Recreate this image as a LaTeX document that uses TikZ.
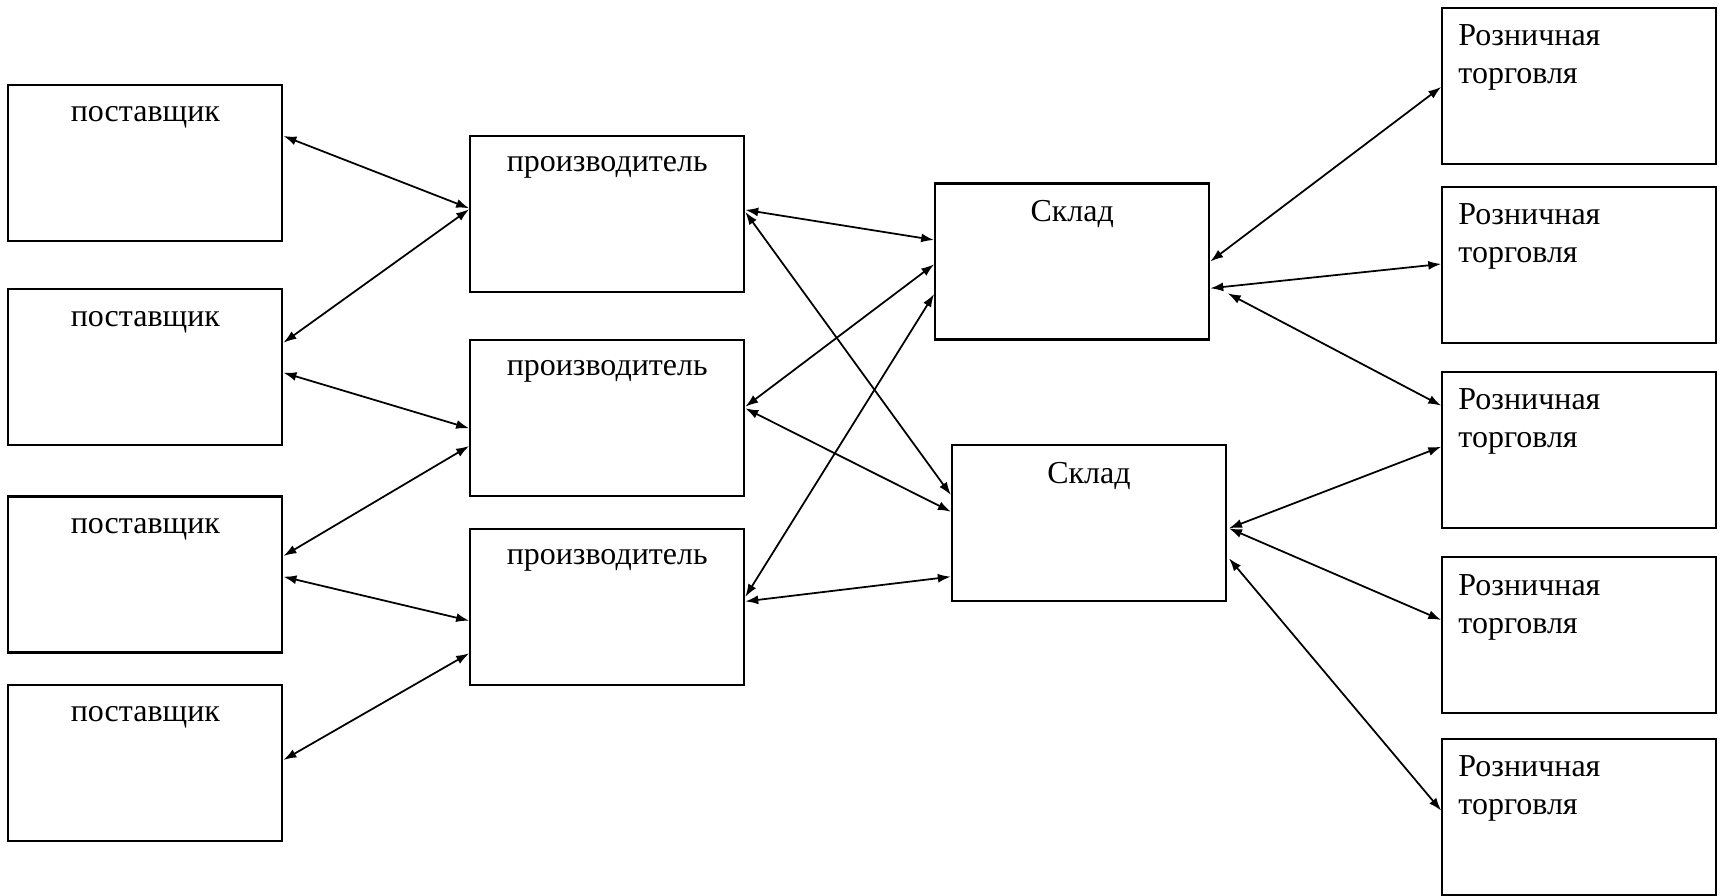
\documentclass[tikz,border=0pt]{standalone}
\usepackage{fontspec}
\setmainfont{Liberation Serif}
\usepackage{tikz}
\usetikzlibrary{arrows.meta}
\tikzset{
  box/.style={rectangle, draw=black, line width=0.6pt,
    minimum width=2.74cm, minimum height=1.56cm, inner sep=0pt},
  lbl/.style={inner sep=0pt, font=\fontsize{9.1}{10.8}\selectfont},
  link/.style={<->, >={Latex[length=1.3mm,width=0.9mm]}, line width=0.5pt}
}

\begin{document}
\begin{tikzpicture}
  \useasboundingbox (0,0) rectangle (17.27,8.95);
  % suppliers
  \node[box] (s1) at (1.454,7.323) {};
  \node[box] (s2) at (1.454,5.278) {};
  \node[box] (s3) at (1.454,3.205) {};
  \node[box] (s4) at (1.454,1.323) {};
  % producers
  \node[box] (p1) at (6.072,6.811) {};
  \node[box] (p2) at (6.072,4.772) {};
  \node[box] (p3) at (6.072,2.883) {};
  % warehouses
  \node[box] (w1) at (10.722,6.335) {};
  \node[box] (w2) at (10.889,3.718) {};
  % retail
  \node[box] (r1) at (15.793,8.091) {};
  \node[box] (r2) at (15.793,6.300) {};
  \node[box] (r3) at (15.793,4.453) {};
  \node[box] (r4) at (15.793,2.597) {};
  \node[box] (r5) at (15.793,0.783) {};
  % texts
  \node[lbl, anchor=base] (s1t) at ([yshift=-0.38cm]s1.north) {поставщик};
  \node[lbl, anchor=base] (s2t) at ([yshift=-0.38cm]s2.north) {поставщик};
  \node[lbl, anchor=base] (s3t) at ([yshift=-0.38cm]s3.north) {поставщик};
  \node[lbl, anchor=base] (s4t) at ([yshift=-0.38cm]s4.north) {поставщик};
  \node[lbl, anchor=base] (p1t) at ([yshift=-0.37cm]p1.north) {производитель};
  \node[lbl, anchor=base] (p2t) at ([yshift=-0.37cm]p2.north) {производитель};
  \node[lbl, anchor=base] (p3t) at ([yshift=-0.37cm]p3.north) {производитель};
  \node[lbl, anchor=base] (w1t) at ([yshift=-0.39cm]w1.north) {Склад};
  \node[lbl, anchor=base] (w2t) at ([yshift=-0.39cm]w2.north) {Склад};
  % two lines: base is the last line
  \node[lbl, anchor=base west, align=left] (r1t) at ([xshift=0.165cm,yshift=-0.77cm]r1.north west) {Розничная\\торговля};
  \node[lbl, anchor=base west, align=left] (r2t) at ([xshift=0.165cm,yshift=-0.77cm]r2.north west) {Розничная\\торговля};
  \node[lbl, anchor=base west, align=left] (r3t) at ([xshift=0.165cm,yshift=-0.77cm]r3.north west) {Розничная\\торговля};
  \node[lbl, anchor=base west, align=left] (r4t) at ([xshift=0.165cm,yshift=-0.77cm]r4.north west) {Розничная\\торговля};
  \node[lbl, anchor=base west, align=left] (r5t) at ([xshift=0.165cm,yshift=-0.77cm]r5.north west) {Розничная\\торговля};
  % suppliers -- producers
  \draw[link] ([yshift=0.267cm]s1.east) -- ([yshift=0.056cm]p1.west);
  \draw[link] ([yshift=0.245cm]s2.east) -- ([yshift=0.046cm]p1.west);
  \draw[link] ([yshift=-0.055cm]s2.east) -- ([yshift=-0.105cm]p2.west);
  \draw[link] ([yshift=0.185cm]s3.east) -- ([yshift=-0.282cm]p2.west);
  \draw[link] ([yshift=-0.022cm]s3.east) -- ([yshift=-0.14cm]p3.west);
  \draw[link] ([yshift=0.027cm]s4.east) -- ([yshift=-0.466cm]p3.west);
  % producers -- warehouses
  \draw[link] ([yshift=0.04cm]p1.east) -- ([yshift=0.215cm]w1.west);
  \draw[link] ([yshift=0.02cm]p1.east) -- ([yshift=0.282cm]w2.west);
  \draw[link] ([yshift=0.11cm]p2.east) -- ([yshift=-0.028cm]w1.west);
  \draw[link] ([yshift=0.095cm]p2.east) -- ([yshift=0.115cm]w2.west);
  \draw[link] ([yshift=0.097cm]p3.east) -- ([yshift=-0.325cm]w1.west);
  \draw[link] ([yshift=0.053cm]p3.east) -- ([yshift=-0.535cm]w2.west);
  % warehouses -- retail
  \draw[link] (w1.east) -- ([yshift=-0.01cm]r1.west);
  \draw[link] ([yshift=-0.268cm]w1.east) -- ([yshift=0.01cm]r2.west);
  \draw[link] ([xshift=0.174cm,yshift=-0.318cm]w1.east) -- ([yshift=0.44cm]r3.west);
  \draw[link] ([xshift=0.02cm,yshift=-0.051cm]w2.east) -- ([yshift=0.03cm]r3.west);
  \draw[link] ([xshift=0.02cm,yshift=-0.051cm]w2.east) -- ([yshift=0.153cm]r4.west);
  \draw[link] ([xshift=0.02cm,yshift=-0.351cm]w2.east) -- ([yshift=0.06cm]r5.west);
\end{tikzpicture}
\end{document}
